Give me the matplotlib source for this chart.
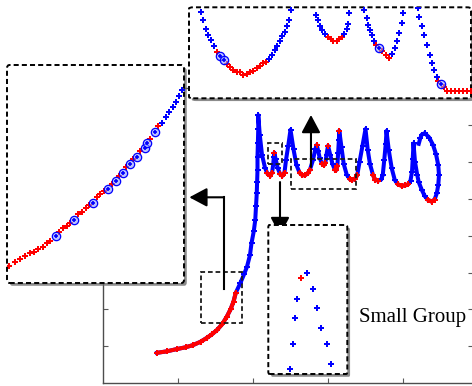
import matplotlib.pyplot as plt
import matplotlib.patheffects as pe
from matplotlib.patches import FancyBboxPatch, Rectangle

# main trajectory (r = red state, b = blue state)
main_x = [0.72, 0.85, 0.98, 1.10, 1.20, 1.30, 1.38, 1.45, 1.52, 1.59, 1.65, 1.70, 1.74, 1.77,
          1.83, 1.88, 1.92, 1.96, 1.98, 2.01, 2.03, 2.04, 2.05, 2.055, 2.06, 2.06, 2.065, 2.07, 2.07,
          2.09, 2.12, 2.16, 2.19, 2.23, 2.255, 2.27, 2.278, 2.285, 2.30, 2.33, 2.36, 2.39, 2.42,
          2.44, 2.47, 2.50, 2.54, 2.58, 2.62, 2.65, 2.69, 2.73, 2.76, 2.80, 2.83, 2.85, 2.87, 2.89,
          2.92, 2.945, 2.965, 2.98, 3.00, 3.03, 3.06, 3.09, 3.11, 3.125, 3.135, 3.145, 3.15,
          3.18, 3.21, 3.25, 3.29, 3.32, 3.36, 3.39, 3.42, 3.46, 3.50, 3.53, 3.56, 3.60, 3.63, 3.67,
          3.71, 3.73, 3.75, 3.77, 3.78, 3.81, 3.85, 3.89, 3.93, 3.98, 4.03, 4.07, 4.10, 4.12, 4.13,
          4.14, 4.16, 4.19, 4.21, 4.25, 4.29, 4.33, 4.38, 4.42, 4.45, 4.47, 4.48, 4.47, 4.44, 4.40,
          4.35, 4.29, 4.25, 4.23, 4.21]
main_y = [0.82, 0.86, 0.92, 0.97, 1.03, 1.12, 1.22, 1.32, 1.44, 1.60, 1.80, 2.00, 2.21, 2.45,
          2.71, 2.95, 3.16, 3.48, 3.80, 4.12, 4.43, 4.80, 5.15, 5.47, 5.79, 6.15, 6.51, 6.90, 7.28,
          6.75, 6.20, 5.85, 5.70, 5.63, 5.72, 5.95, 6.15, 6.26, 6.10, 5.84, 5.68, 5.63, 5.72,
          6.06, 6.45, 6.88, 6.35, 5.92, 5.72, 5.66, 5.64, 5.70, 5.80, 6.06, 6.35, 6.47, 6.30, 6.11,
          5.96, 5.92, 5.98, 6.20, 6.45, 6.20, 5.95, 5.80, 5.79, 5.90, 6.25, 6.60, 6.86,
          6.40, 5.95, 5.66, 5.54, 5.52, 5.55, 5.65, 6.00, 6.45, 6.90, 6.33, 5.95, 5.65, 5.52, 5.50,
          5.53, 5.65, 6.06, 6.50, 6.85, 6.33, 5.83, 5.52, 5.40, 5.36, 5.37, 5.40, 5.50, 5.74, 6.10,
          6.51, 6.01, 5.65, 5.46, 5.25, 5.08, 4.98, 4.93, 4.98, 5.15, 5.38, 5.65, 5.92, 6.22, 6.47,
          6.67, 6.79, 6.75, 6.65, 6.50]
main_c = ("rrrrrrrrrrrrrr" "bbbbbbbbbbbbbbb"
          "bbbrrrbbrbbrrr" "bbbbbrrrrrbbrbb"
          "rrrbrbbrrrbbr" "bbbrrrrbbbbbrrr"
          "bbbbbbbbrrrrbbb" "bbbbbbrrrbbbbb" "bbbbb")

# zoomed windows in main-axis units: x0, y0, x1, y1
win_left = [1.307, 1.617, 1.849, 3.003]
win_small = [2.204, 5.946, 2.393, 6.535]
win_top = [2.503, 5.266, 3.373, 6.095]

# left inset (local units)
left_red_x = [2, 8, 13, 18, 23, 27, 31, 36, 40, 43, 52, 56, 60, 63, 71, 75, 79, 82, 90, 93, 97,
              105, 112, 119, 126, 133, 143, 151]
left_red_y = [17, 21, 24, 27, 30, 31, 34, 36, 40, 42, 51, 55, 57, 60, 69, 71, 75, 78, 86, 89, 92,
              99, 107, 116, 124, 132, 144, 157]
left_ring_x = [49, 67, 86, 101, 109, 116, 123, 130, 138, 140, 148]
left_ring_y = [47, 63, 80, 94, 102, 110, 119, 126, 135, 140, 151]
left_blue_x = [155, 159, 162, 166, 169, 172, 175]
left_blue_y = [160, 166, 171, 176, 181, 187, 193]

# top inset (local units)
top_blue_x = [12, 14, 17, 19, 22, 25, 80, 83, 86, 88, 91, 93, 96, 98, 100, 102,
              127, 129, 131, 133, 136, 155, 158, 159, 160, 175, 178, 179, 181, 183, 185,
              203, 206, 208, 210, 213, 214, 229, 230, 233, 235, 238, 241, 243, 245, 248]
top_blue_y = [86, 78, 69, 63, 58, 52, 39, 43, 48, 52, 57, 62, 66, 72, 78, 88,
              83, 78, 72, 68, 64, 64, 69, 74, 85, 88, 80, 73, 68, 63, 57,
              44, 50, 57, 65, 75, 85, 90, 81, 72, 63, 53, 43, 35, 28, 21]
top_red_x = [28, 38, 41, 44, 48, 51, 54, 58, 61, 64, 68, 71, 74, 77, 139, 142, 144, 148, 150, 153,
             187, 193, 197, 200, 249, 255, 258, 262, 266, 270, 274, 278, 282]
top_red_y = [46, 34, 31, 28, 26, 26, 23, 24, 26, 27, 30, 32, 35, 36, 61, 59, 57, 57, 59, 61,
             53, 47, 43, 40, 17, 11, 7, 7, 7, 7, 7, 7, 7]
top_ring_x = [31, 35, 190, 252]
top_ring_y = [42, 38, 50, 14]

# small group inset (local units)
small_blue_x = [39, 45, 29, 49, 27, 53, 25, 59, 22, 63]
small_blue_y = [101, 85, 75, 66, 56, 46, 30, 30, 5, 10]
small_red_x = [33]
small_red_y = [96]

W, H = 472, 386
fig = plt.figure(figsize=(W / 100, H / 100), dpi=100)


def px_axes(left, top, w, h, z=0):
    return fig.add_axes([left / W, 1 - (top + h) / H, w / W, h / H], zorder=z)


# ---- main axes
ax = px_axes(103, 88, 369.5, 295)
ax.set_xlim(0, 369.5 / 75)
ax.set_ylim(0, 295 / 36.8)
ax.set_xticks([1, 2, 3, 4])
ax.set_yticks(range(1, 8))
ax.tick_params(direction='in', length=3.5, width=0.8, colors='0.35', top=True, right=True,
               labelleft=False, labelbottom=False)
for s in ax.spines.values():
    s.set_color('0.3')
    s.set_linewidth(1.0)

ax.plot(main_x, main_y, '-', color='b', lw=2.9, solid_joinstyle='round', zorder=2)
run = []
for i, c in enumerate(main_c + 'b'):
    if c == 'r' and i < len(main_x):
        run.append(i)
    elif run:
        ax.plot([main_x[j] for j in run], [main_y[j] for j in run], '-', color='r', lw=2.9,
                solid_capstyle='round', solid_joinstyle='round', zorder=3)
        run = []
bx = [x for x, c in zip(main_x, main_c) if c == 'b']
by = [y for y, c in zip(main_y, main_c) if c == 'b']
rx = [x for x, c in zip(main_x, main_c) if c == 'r']
ry = [y for y, c in zip(main_y, main_c) if c == 'r']
ax.plot(bx, by, 'P', color='b', ms=4, mew=0, zorder=3)
ax.plot(rx, ry, 'P', color='r', ms=4, mew=0, zorder=4)

dash = (0, (2.6, 1.6))
for x0, y0, x1, y1 in (win_left, win_small, win_top):
    ax.add_patch(Rectangle((x0, y0), x1 - x0, y1 - y0, fill=False, ls=dash, lw=1.3,
                           ec='0.1', zorder=5))

aprops = dict(arrowstyle='-|>,head_length=0.6,head_width=0.32', color='k', lw=1.5,
              shrinkA=0, shrinkB=0, mutation_scale=18)
ax.plot([1.613, 1.613], [2.554, 5.046], color='k', lw=1.5, zorder=6)
ax.annotate('', xy=(1.151, 5.046), xytext=(1.613, 5.046), arrowprops=aprops, zorder=6)
ax.annotate('', xy=(2.773, 7.283), xytext=(2.773, 5.87), arrowprops=aprops, zorder=6)
ax.annotate('', xy=(2.36, 4.02), xytext=(2.36, 5.46), arrowprops=aprops, zorder=6)

ax.text(3.41, 1.77, 'Small Group', fontsize=15, family='Liberation Serif',
        ha='left', va='center', zorder=6)


def inset(left, top, w, h):
    a = px_axes(left, top, w, h, z=2)
    a.set_axis_off()
    a.add_patch(FancyBboxPatch((0, 0), 1, 1, boxstyle='round,pad=0,rounding_size=0.015',
                               transform=a.transAxes, fc='white', ec='black', ls=dash, lw=1.4,
                               clip_on=False, zorder=0,
                               path_effects=[pe.SimplePatchShadow(offset=(2, -2),
                                                                  shadow_rgbFace='0.4',
                                                                  alpha=0.75),
                                             pe.Normal()]))
    a.set_xlim(0, w)
    a.set_ylim(0, h)
    return a


dot = dict(ls='none', marker='P', ms=3.8, mew=0, zorder=2)
ring = dict(marker='o', ls='none', ms=6, mfc=(0.55, 0.6, 1.0, 0.6), mec='b', mew=0.9, zorder=3)

a1 = inset(7, 65, 177, 218)
a1.plot(left_red_x, left_red_y, color='r', **dot)
a1.plot(left_ring_x, left_ring_y, **ring)
a1.plot(left_ring_x, left_ring_y, '+', color='b', ms=3.2, mew=1.2, zorder=4)
a1.plot(left_blue_x, left_blue_y, color='b', **dot)

a2 = inset(189, 7.3, 282, 91)
a2.plot(top_red_x, top_red_y, color='r', **dot)
a2.plot(top_blue_x, top_blue_y, color='b', **dot)
a2.plot(top_ring_x, top_ring_y, **ring)
a2.plot(top_ring_x, top_ring_y, '+', color='b', ms=3.2, mew=1.2, zorder=4)

a3 = inset(268.3, 225, 79, 149)
a3.plot(small_blue_x, small_blue_y, color='b', **dot)
a3.plot(small_red_x, small_red_y, color='r', **dot)

fig.savefig('out.png', dpi=100)
